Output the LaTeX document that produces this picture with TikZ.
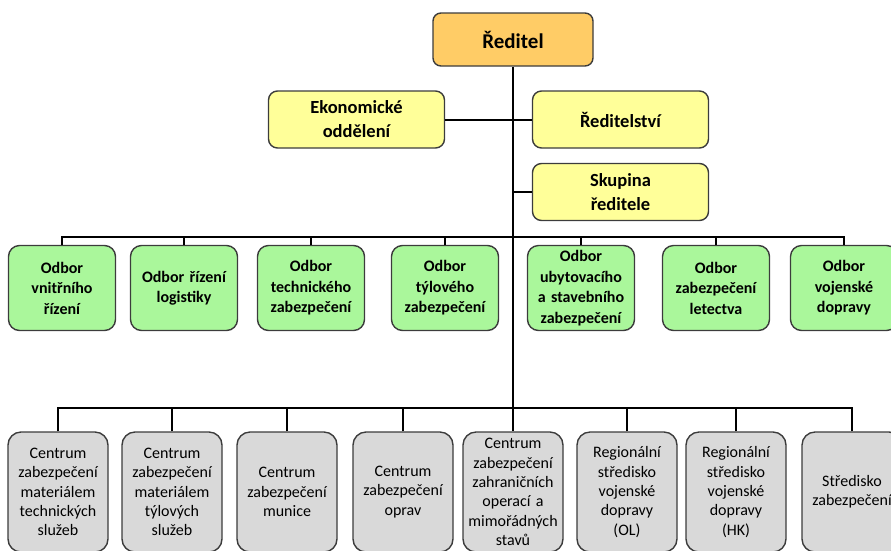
\documentclass[tikz,border=0pt]{standalone}
\usepackage{fontspec}
\setmainfont{Carlito}
\usepackage{xcolor}
\definecolor{bossfill}{RGB}{255,204,102}
\definecolor{yelfill}{RGB}{255,255,153}
\definecolor{grnfill}{RGB}{170,247,155}
\definecolor{gryfill}{RGB}{217,217,217}
\definecolor{edge}{RGB}{60,60,60}
\usepackage{tikz}

\begin{document}
\begin{tikzpicture}[x=1pt,y=-1pt,
	box/.style={draw=edge,line width=1.4pt,align=center,inner sep=0pt},
	boss/.style={box,fill=bossfill,rounded corners=8pt,minimum width=160pt,minimum height=53pt,font=\fontsize{21}{25}\selectfont\bfseries},
	staff/.style={box,fill=yelfill,rounded corners=9pt,minimum width=176pt,minimum height=57pt,font=\fontsize{18.5}{24}\selectfont\bfseries},
	odbor/.style={box,fill=grnfill,rounded corners=11pt,minimum width=107pt,minimum height=85pt,text width=105pt,font=\fontsize{16}{20.5}\selectfont\bfseries},
	centrum/.style={box,fill=gryfill,rounded corners=13pt,minimum width=100pt,minimum height=120pt,text width=98pt,font=\fontsize{16}{19.3}\selectfont},
	link/.style={line width=2pt,black}]
\clip (0,0) rectangle (891,550);
		\coordinate (T) at (513,119.5);
		\coordinate (S) at (513,192);
		\coordinate (GB) at (513,237);
		\coordinate (CB) at (513,408);
		\node[boss] (R) at (513,39.5) {Ředitel};
		\node[staff] (E) at (356.5,119.5) {Ekonomické\\oddělení};
		\node[staff] (RS) at (620.5,119.5) {Ředitelství};
		\node[staff] (SK) at (620.5,192) {Skupina\\ředitele};
		\node[odbor] (O1) at (62,288) {Odbor\\vnitřního\\řízení};
		\node[odbor] (O2) at (184,288) {Odbor řízení\\logistiky};
		\node[odbor] (O3) at (311,288) {Odbor\\technického\\zabezpečení};
		\node[odbor] (O4) at (445,288) {Odbor\\týlového\\zabezpečení};
		\node[odbor] (O5) at (581,288) {Odbor\\ubytovacího\\a stavebního\\zabezpečení};
		\node[odbor] (O6) at (716,288) {Odbor\\zabezpečení\\letectva};
		\node[odbor] (O7) at (844,288) {Odbor\\vojenské\\dopravy};
		\node[centrum] (C1) at (58,492) {Centrum\\zabezpečení\\materiálem\\technických\\služeb};
		\node[centrum] (C2) at (172,492) {Centrum\\zabezpečení\\materiálem\\týlových\\služeb};
		\node[centrum] (C3) at (287,492) {Centrum\\zabezpečení\\munice};
		\node[centrum] (C4) at (403,492) {Centrum\\zabezpečení\\oprav};
		\node[centrum] (C5) at (513,492) {Centrum\\zabezpečení\\zahraničních\\operací a\\mimořádných\\stavů};
		\node[centrum] (C6) at (627,492) {Regionální\\středisko\\vojenské\\dopravy\\(OL)};
		\node[centrum] (C7) at (736,492) {Regionální\\středisko\\vojenské\\dopravy\\(HK)};
		\node[centrum] (C8) at (852,492) {Středisko\\zabezpečení};
		\draw[link] (R) -- (C5);
		\draw[link] (E) -- (RS);
		\draw[link] (S) -- (SK);
		\foreach \n in {O1,O2,O3,O4,O5,O6,O7}
			\draw[link] (\n.north) |- (GB);
		\foreach \n in {C1,C2,C3,C4,C6,C7,C8}
			\draw[link] (\n.north) |- (CB);
\end{tikzpicture}
\end{document}
